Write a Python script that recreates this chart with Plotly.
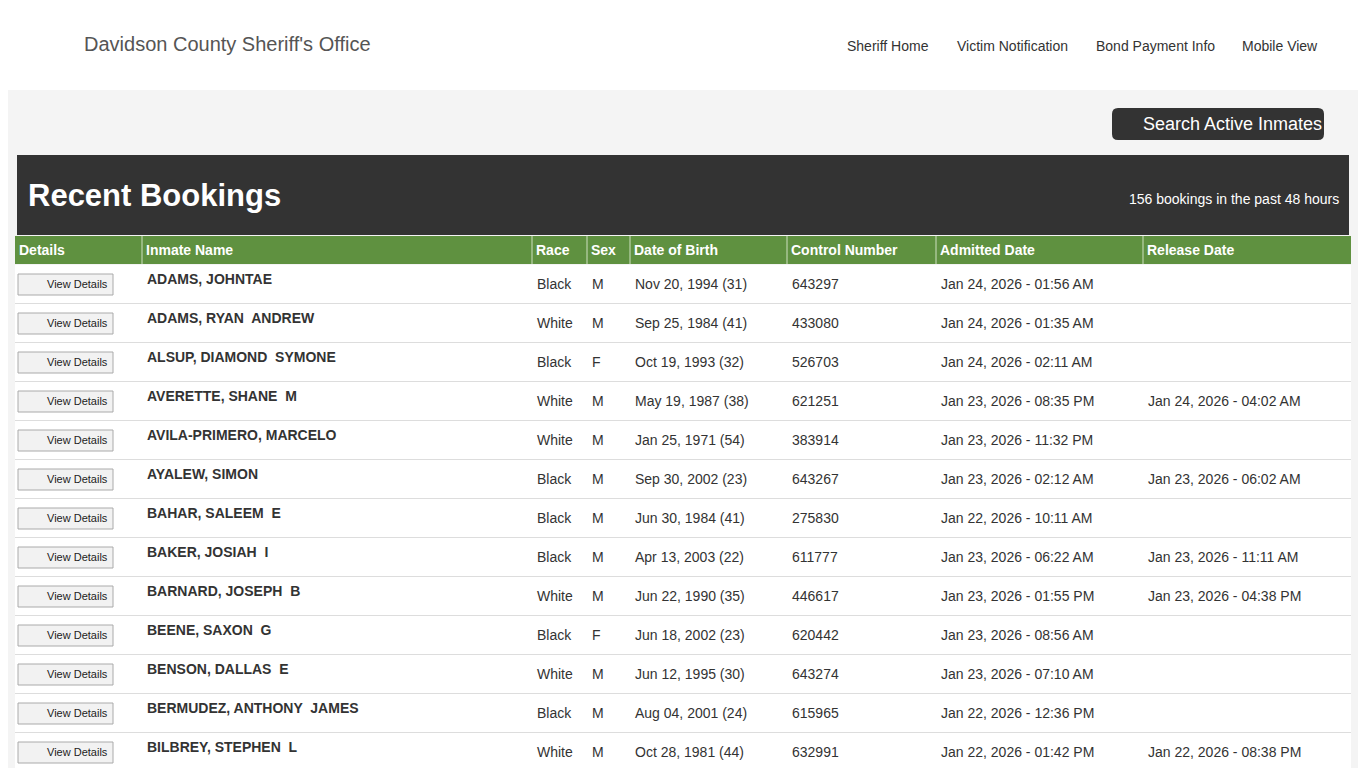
import plotly.graph_objects as go

names = ["ADAMS, JOHNTAE", "ADAMS, RYAN  ANDREW", "ALSUP, DIAMOND  SYMONE", "AVERETTE, SHANE  M",
         "AVILA-PRIMERO, MARCELO", "AYALEW, SIMON", "BAHAR, SALEEM  E", "BAKER, JOSIAH  I",
         "BARNARD, JOSEPH  B", "BEENE, SAXON  G", "BENSON, DALLAS  E", "BERMUDEZ, ANTHONY  JAMES",
         "BILBREY, STEPHEN  L"]
races = ["Black", "White", "Black", "White", "White", "Black", "Black", "Black", "White", "Black", "White", "Black", "White"]
sexes = ["M", "M", "F", "M", "M", "M", "M", "M", "M", "F", "M", "M", "M"]
dobs = ["Nov 20, 1994 (31)", "Sep 25, 1984 (41)", "Oct 19, 1993 (32)", "May 19, 1987 (38)",
        "Jan 25, 1971 (54)", "Sep 30, 2002 (23)", "Jun 30, 1984 (41)", "Apr 13, 2003 (22)",
        "Jun 22, 1990 (35)", "Jun 18, 2002 (23)", "Jun 12, 1995 (30)", "Aug 04, 2001 (24)",
        "Oct 28, 1981 (44)"]
controls = ["643297", "433080", "526703", "621251", "383914", "643267", "275830", "611777",
            "446617", "620442", "643274", "615965", "632991"]
admitted = ["Jan 24, 2026 - 01:56 AM", "Jan 24, 2026 - 01:35 AM", "Jan 24, 2026 - 02:11 AM",
            "Jan 23, 2026 - 08:35 PM", "Jan 23, 2026 - 11:32 PM", "Jan 23, 2026 - 02:12 AM",
            "Jan 22, 2026 - 10:11 AM", "Jan 23, 2026 - 06:22 AM", "Jan 23, 2026 - 01:55 PM",
            "Jan 23, 2026 - 08:56 AM", "Jan 23, 2026 - 07:10 AM", "Jan 22, 2026 - 12:36 PM",
            "Jan 22, 2026 - 01:42 PM"]
released = ["", "", "", "Jan 24, 2026 - 04:02 AM", "", "Jan 23, 2026 - 06:02 AM", "",
            "Jan 23, 2026 - 11:11 AM", "Jan 23, 2026 - 04:38 PM", "", "", "", "Jan 22, 2026 - 08:38 PM"]
headers = ["Details", "Inmate Name", "Race", "Sex", "Date of Birth", "Control Number", "Admitted Date", "Release Date"]
nav = [("Sheriff Home", 888), ("Victim Notification", 1012), ("Bond Payment Info", 1155), ("Mobile View", 1280)]

edges = [15, 142, 532, 587, 630, 787, 936, 1143, 1351]
FONT = "Liberation Sans, Arial, sans-serif"
OFF = 8  # the page body has an 8px margin, so shift the coordinate frame
shapes, ann = [], []

def text(x, y, s, size=14, color="#333", bold=False, anchor="left"):
    ann.append(dict(x=x, y=y, text=f"<b>{s}</b>" if bold else s, showarrow=False, xanchor=anchor,
                    yanchor="middle", font=dict(family=FONT, size=size, color=color)))

def rect(x0, y0, x1, y1, fill, line=None, width=1):
    shapes.append(dict(type="rect", x0=x0, y0=y0, x1=x1, y1=y1, fillcolor=fill,
                       line=dict(color=line or fill, width=width if line else 0), layer="below"))

# header band
rect(-20, -20, 1400, 90, "white")
text(82, 44, "Davidson County Sheriff's Office", size=20, color="#555")
for label, cx in nav:
    text(cx, 46, label, size=14, color="#333", anchor="center")

# search button
shapes.append(dict(type="path", path="M1118,108 L1318,108 Q1324,108 1324,114 L1324,134 Q1324,140 1318,140 "
                   "L1118,140 Q1112,140 1112,134 L1112,114 Q1112,108 1118,108 Z",
                   fillcolor="#333", line=dict(width=0), layer="below"))
text(1232, 124, "Search Active Inmates", size=18, color="white", anchor="center")

# title band
rect(17, 155, 1349, 235, "#333")
text(26, 195, "Recent Bookings", size=31, color="white", bold=True)
text(1341, 199, "156 bookings in the past 48 hours", size=14, color="white", anchor="right")

# table header
rect(15, 236, 1351, 264, "#5f9140")
for i, h in enumerate(headers):
    text(edges[i] + 2, 250, h, size=14, color="white", bold=True)
    if i > 0:
        shapes.append(dict(type="line", x0=edges[i], x1=edges[i], y0=236, y1=264, line=dict(color="#cfe0c0", width=1)))

rect(15, 265, 1351, 800, "white")
cols = [races, sexes, dobs, controls, admitted, released]
for r in range(len(names)):
    top = 265 + 39 * r
    cy = top + 19
    shapes.append(dict(type="line", x0=15, x1=1351, y0=top + 38.5, y1=top + 38.5, line=dict(color="#ddd", width=1)))
    rect(18, cy - 10, 113, cy + 11, "#f2f2f2", line="#aaa")
    text(77, cy, "View Details", size=11, color="#222", anchor="center")
    text(145, cy - 5, names[r], size=14, color="#333", bold=True)
    for c, col in enumerate(cols):
        text(edges[c + 2] + 3, cy, col[r], size=14, color="#333")

fig = go.Figure()
fig.update_layout(width=1366, height=768, margin=dict(l=0, r=0, t=0, b=0),
                  paper_bgcolor="#f4f4f4", plot_bgcolor="#f4f4f4",
                  xaxis=dict(range=[OFF, 1366 + OFF], visible=False, fixedrange=True),
                  yaxis=dict(range=[768 + OFF, OFF], visible=False, fixedrange=True),
                  shapes=shapes, annotations=ann, showlegend=False)
fig.write_html("out.html", config={"displayModeBar": False})
